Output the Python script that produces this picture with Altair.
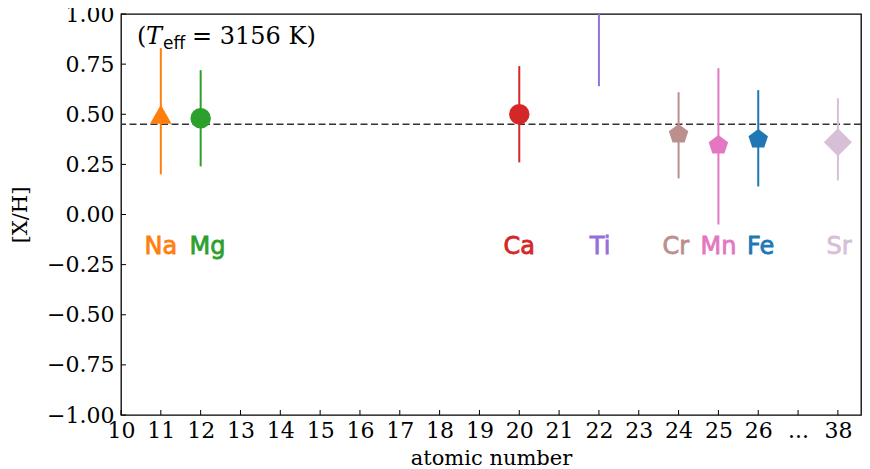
import altair as alt
import pandas as pd

# ---- data ----
elements = ["Na", "Mg", "Ca", "Ti", "Cr", "Mn", "Fe", "Sr"]
positions = [11, 12, 20, 22, 24, 25, 26, 28]          # 28 is the slot labelled "38"
values = [0.50, 0.48, 0.50, 1.30, 0.40, 0.345, 0.375, 0.36]
lower = [0.20, 0.24, 0.26, 0.64, 0.18, -0.05, 0.14, 0.17]
upper = [0.83, 0.72, 0.74, 1.96, 0.61, 0.73, 0.62, 0.58]
colors = ["#ff7f0e", "#2ca02c", "#d62728", "#9370db", "#bc8f8f", "#e377c2", "#1f77b4", "#d8bfd8"]
PENT = "M0,-1L0.951,-0.309L0.588,0.809L-0.588,0.809L-0.951,-0.309Z"
shapes = ["triangle-up", "circle", "circle", "square", PENT, PENT, PENT, "diamond"]
sizes = [470, 420, 420, 420, 420, 420, 420, 784]
label_x = [11, 12.17, 20, 22.03, 23.93, 25, 26.06, 28.03]
label_y = [-0.16] * 8

x_ticks = list(range(10, 29))
y_ticks = [-1.0, -0.75, -0.5, -0.25, 0.0, 0.25, 0.5, 0.75, 1.0]
ref_level = 0.45

df = pd.DataFrame({
    "el": elements, "x": positions, "v": values, "lo": lower, "hi": upper,
    "c": colors, "s": shapes, "sz": sizes, "lx": label_x, "ly": label_y,
})

W, H = 740, 401
serif = "DejaVu Serif"

label_expr = "datum.value == 27 ? '...' : (datum.value == 28 ? '38' : datum.label)"
xscale = alt.Scale(domain=[10, 28.58], nice=False, zero=False)
yscale = alt.Scale(domain=[-1, 1], nice=False, zero=False)

xaxis = alt.Axis(values=x_ticks, labelExpr=label_expr, title="atomic number",
                 ticks=False, domain=False, grid=False, labelFont=serif,
                 labelFontSize=22, labelColor="black", labelPadding=5,
                 titleFont=serif, titleFontSize=21, titleFontWeight="normal",
                 titleColor="black", titlePadding=6, labelFlush=False, labelOverlap=False)
yaxis = alt.Axis(values=y_ticks, title="[X/H]",
                 labelExpr="replace(format(datum.value, '.2f'), '-', '\u2212')",
                 ticks=False, domain=False, grid=False, labelFont=serif,
                 labelFontSize=22, labelColor="black", labelPadding=7,
                 titleFont=serif, titleFontSize=21, titleFontWeight="normal",
                 titleColor="black", titlePadding=16, labelFlush=False, labelOverlap=False)

base = alt.Chart(df)

errbars = base.mark_rule(strokeWidth=2, clip=True).encode(
    x=alt.X("x:Q", scale=xscale, axis=xaxis),
    y=alt.Y("lo:Q", scale=yscale, axis=yaxis),
    y2="hi:Q",
    color=alt.Color("c:N", scale=None),
)

points = base.mark_point(filled=True, opacity=1, clip=True, strokeWidth=0).encode(
    x="x:Q", y="v:Q",
    color=alt.Color("c:N", scale=None),
    shape=alt.Shape("s:N", scale=None),
    size=alt.Size("sz:Q", scale=None),
)

labels = base.mark_text(font="DejaVu Sans", fontSize=24, fontWeight="normal",
                        strokeWidth=0.8, align="center", baseline="middle").encode(
    x="lx:Q", y="ly:Q", text="el:N",
    color=alt.Color("c:N", scale=None),
    stroke=alt.Stroke("c:N", scale=None),
)

dash = alt.Chart(pd.DataFrame({"r": [ref_level]})).mark_rule(
    color="#333333", strokeWidth=1.5, strokeDash=[7, 3.5]).encode(y="r:Q")

xt = alt.Chart(pd.DataFrame({"t": x_ticks})).mark_rule(color="black", strokeWidth=1).encode(
    x="t:Q", y=alt.value(H), y2=alt.value(H - 5))
yt = alt.Chart(pd.DataFrame({"t": y_ticks})).mark_rule(color="black", strokeWidth=1).encode(
    y="t:Q", x=alt.value(0), x2=alt.value(5))

def txt(s, x, y, **kw):
    return alt.Chart(pd.DataFrame({"s": [s]})).mark_text(
        align="left", baseline="alphabetic", color="black", **kw).encode(
        text="s:N", x=alt.value(x), y=alt.value(y))

teff = (txt("(", 16, 30, font=serif, fontSize=24)
        + txt("T", 25, 30, font=serif, fontSize=24, fontStyle="italic")
        + txt("eff", 42, 35, font="DejaVu Sans", fontSize=17)
        + txt("= 3156 K)", 71, 30, font=serif, fontSize=24))

chart = alt.layer(dash, errbars, points, labels, xt, yt, teff).properties(
    width=W, height=H,
    padding={"left": 113, "top": 6, "right": 1, "bottom": 54},
    autosize=alt.AutoSizeParams(type="none"),
).configure_view(stroke="black", strokeWidth=1.3)

chart.save("out.html", embed_options={"renderer": "svg", "actions": False})
